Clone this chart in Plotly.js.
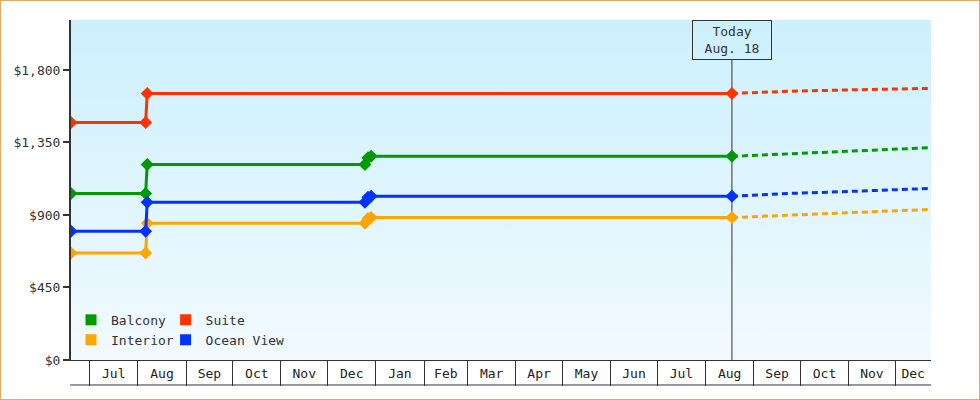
<!DOCTYPE html>
<html>
<head>
<meta charset="utf-8">
<script src="https://cdn.plot.ly/plotly-3.0.1.min.js"></script>
<style>
  body { margin: 0; width: 980px; height: 400px; position: relative; background: #fff; }
  #bg { position: absolute; left: 71px; top: 20px; width: 860px; height: 340px;
        background: linear-gradient(to bottom, #ccf0fd, #f2faff); }
  #chart { position: absolute; left: 0; top: 0; width: 980px; height: 400px; }
  #frame { position: absolute; left: 0; top: 0; width: 980px; height: 400px; box-sizing: border-box;
           border: 1px solid #e8a862; pointer-events: none; }
</style>
</head>
<body>
<div id="bg"></div>
<div id="chart"></div>
<div id="frame"></div>
<script>
var categories = ["Balcony", "Suite", "Interior", "Ocean View"];
var colors = ["#009900", "#ff3300", "#ffa500", "#0033ff"];
var today = "2023-08-18";

// price history (step changes)
var balconyDates = ["2022-06-19", "2022-08-06", "2022-08-07", "2022-12-25", "2022-12-27", "2022-12-29", today];
var balconyPrices = [1034, 1034, 1214, 1214, 1255, 1264, 1264];
var suiteDates = ["2022-06-19", "2022-08-06", "2022-08-07", today];
var suitePrices = [1474, 1474, 1654, 1654];
var interiorDates = ["2022-06-19", "2022-08-06", "2022-08-07", "2022-12-25", "2022-12-27", "2022-12-29", today];
var interiorPrices = [664, 664, 849, 849, 878, 884, 884];
var oceanDates = ["2022-06-19", "2022-08-06", "2022-08-07", "2022-12-25", "2022-12-27", "2022-12-29", today];
var oceanPrices = [799, 799, 979, 979, 1010, 1016, 1016];

// forecast
var forecastDates = [today, "2023-09-25", "2023-10-27", "2023-11-28", "2023-12-24"];
var balconyForecast = [1264, 1279, 1293, 1305, 1318];
var suiteForecast = [1654, 1668, 1675, 1680, 1686];
var interiorForecast = [884, 900, 914, 926, 935];
var oceanForecast = [1016, 1034, 1044, 1057, 1065];

// axis
var xStart = "2022-06-19", xEnd = "2023-12-24";
var monthStarts = ["2022-07-01", "2022-08-01", "2022-09-01", "2022-10-01", "2022-11-01", "2022-12-01",
  "2023-01-01", "2023-02-01", "2023-03-01", "2023-04-01", "2023-05-01", "2023-06-01",
  "2023-07-01", "2023-08-01", "2023-09-01", "2023-10-01", "2023-11-01", "2023-12-01"];
var monthLabels = ["Jul", "Aug", "Sep", "Oct", "Nov", "Dec", "Jan", "Feb", "Mar", "Apr", "May", "Jun",
  "Jul", "Aug", "Sep", "Oct", "Nov", "Dec"];

var priceHistory = [[balconyDates, balconyPrices], [suiteDates, suitePrices], [interiorDates, interiorPrices], [oceanDates, oceanPrices]];
var forecast = [balconyForecast, suiteForecast, interiorForecast, oceanForecast];

// month label sits in the middle of the visible part of each month
function ms(d) { return new Date(d + "T00:00:00Z").getTime(); }
var labelPos = [];
for (var m = 0; m < monthStarts.length; m++) {
  var a = ms(monthStarts[m]);
  var b = m + 1 < monthStarts.length ? ms(monthStarts[m + 1]) : ms(xEnd);
  b = Math.min(b, ms(xEnd));
  labelPos.push(new Date((a + b) / 2).toISOString().slice(0, 19).replace("T", " "));
}

var font = "DejaVu Sans Mono, monospace";
var data = [];

for (var i = 0; i < categories.length; i++) {
  data.push({
    x: priceHistory[i][0], y: priceHistory[i][1],
    mode: "lines+markers", type: "scatter",
    line: { color: colors[i], width: 3 },
    marker: { symbol: "diamond", size: 10, color: colors[i] },
    showlegend: false, hoverinfo: "x+y"
  });
  data.push({
    x: forecastDates, y: forecast[i],
    mode: "lines", type: "scatter",
    line: { color: colors[i], width: 3, dash: "6px,4px" },
    showlegend: false, hoverinfo: "x+y"
  });
}
// legend swatches: Balcony/Interior in first column, Suite/Ocean View in second
for (var i = 0; i < categories.length; i++) {
  data.push({
    x: [null], y: [null], name: categories[i],
    mode: "markers", type: "scatter",
    marker: { symbol: "square", size: 11, color: colors[i] },
    legend: (i % 2 == 0) ? "legend" : "legend2"
  });
}
// carrier for the month labels
data.push({ x: [xStart], y: [null], xaxis: "x2", yaxis: "y", showlegend: false, mode: "markers", hoverinfo: "skip" });

var legendBase = {
  bgcolor: "rgba(0,0,0,0)", borderwidth: 0,
  font: { family: font, size: 13, color: "#333" },
  xanchor: "left", yanchor: "bottom", y: 0.015,
  itemwidth: 30, tracegroupgap: 0
};

var layout = {
  width: 980, height: 400,
  margin: { l: 71, r: 49, t: 20, b: 40 },
  paper_bgcolor: "rgba(0,0,0,0)",
  plot_bgcolor: "rgba(0,0,0,0)",
  font: { family: font, size: 13, color: "#333" },
  showlegend: true,
  legend: Object.assign({}, legendBase, { x: 0.0 }),
  legend2: Object.assign({}, legendBase, { x: 0.11 }),
  xaxis: {
    type: "date", range: [xStart, xEnd],
    tickmode: "array", tickvals: monthStarts, showticklabels: false,
    ticks: "outside", ticklen: 25, tickwidth: 1, tickcolor: "#333",
    showline: true, linecolor: "#333", linewidth: 1,
    showgrid: false, zeroline: false
  },
  xaxis2: {
    type: "date", range: [xStart, xEnd], overlaying: "x", anchor: "y", side: "bottom",
    tickmode: "array", tickvals: labelPos, ticktext: monthLabels,
    ticks: "", ticklabelstandoff: 4,
    showline: false, showgrid: false, zeroline: false,
    tickfont: { family: font, size: 13, color: "#222" }
  },
  yaxis: {
    range: [0, 2110], dtick: 450, tick0: 0,
    tickprefix: "$", tickformat: ",d",
    ticks: "outside", ticklen: 6, tickwidth: 2, tickcolor: "#333",
    showline: true, linecolor: "#333", linewidth: 2,
    showgrid: false, zeroline: false,
    tickfont: { family: font, size: 13, color: "#333" }
  },
  shapes: [
    { type: "line", xref: "x", yref: "paper", x0: today, x1: today, y0: 0, y1: 0.882,
      line: { color: "#333", width: 1 }, layer: "below" },
    { type: "line", xref: "paper", yref: "paper", x0: -0.001, x1: 1, y0: -0.0735, y1: -0.0735,
      line: { color: "#333", width: 1 } }
  ],
  annotations: [
    { xref: "x", yref: "paper", x: today, y: 1, yanchor: "top", xanchor: "center",
      text: "Today<br>Aug. 18", showarrow: false,
      width: 76, height: 36, borderpad: 1, borderwidth: 1, bordercolor: "#333",
      font: { family: font, size: 13, color: "#333" } }
  ]
};

Plotly.newPlot("chart", data, layout, { displayModeBar: false, staticPlot: true });
</script>
</body>
</html>
